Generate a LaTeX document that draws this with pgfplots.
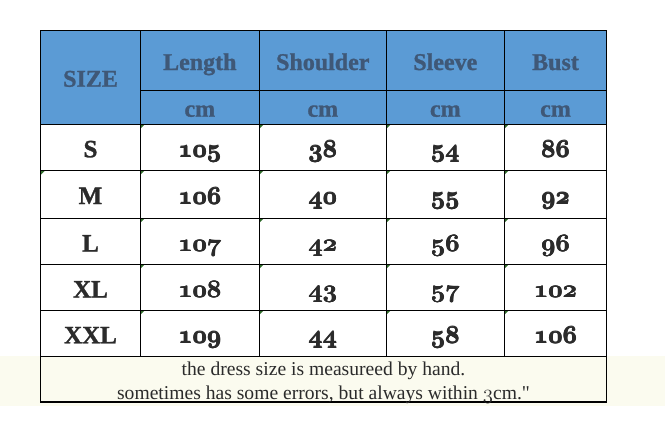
\documentclass[border=0pt]{standalone}
\usepackage{pgfplots}
\usepackage{pgfplotstable}
\pgfplotsset{compat=1.18}
\usepackage{fontspec}
\setmainfont{Liberation Serif}
\newfontface\heavyfont{Liberation Serif Bold}[FakeBold=1.2]

\definecolor{headblue}{HTML}{5B9BD5}
\definecolor{headtext}{HTML}{3F5877}
\definecolor{bodytext}{HTML}{2B2B2B}
\definecolor{cream}{HTML}{FBFBEF}
\definecolor{errgreen}{HTML}{2F6B2A}

% baseline = vertical position of each row's text (layout), then the values
\pgfplotstableread{
size length shoulder sleeve bust baseline
S    105    38       54     86   157.3
M    106    40       55     92   204.0
L    107    42       56     96   251.5
XL   108    43       57     102  297.5
XXL  109    44       58     106  343.3
}\sizetable

\newcommand{\numfont}{\fontsize{24.88}{30}\usefont{OML}{cmm}{b}{it}}
% heavier old-style digits: overlaid copies
\newcommand{\fbold}[1]{\leavevmode\rlap{#1}\rlap{\hspace{0.8pt}#1}\rlap{\hspace{0.4pt}\raisebox{0.45pt}{#1}}\rlap{\hspace{0.4pt}\raisebox{-0.35pt}{#1}}\hspace{0.8pt}\phantom{#1}}

\begin{document}
\begin{tikzpicture}
\begin{axis}[
  width=665pt, height=440pt, scale only axis,
  xmin=0, xmax=665, ymin=0, ymax=440, y dir=reverse,
  hide axis, clip=false,
  every node near coord/.append style={anchor=base, inner sep=0pt, text=bodytext},
]
% background and bands
\fill[white] (axis cs:0,0) rectangle (axis cs:665,440);
\fill[cream] (axis cs:0,356) rectangle (axis cs:665,406);
\fill[headblue] (axis cs:40.7,30.3) rectangle (axis cs:606.7,124.3);

% error indicators
\pgfplotsforeachungrouped \yy in {124.3,170.3,218.3,264.3,310.3}{%
  \pgfplotsforeachungrouped \xx in {140.3,259.3,386.3,504.3}{%
    \edef\tmp{\noexpand\fill[errgreen] (axis cs:\xx,\yy) -- (axis cs:\xx+4.5,\yy) -- (axis cs:\xx,\yy+4.5) -- cycle;}\tmp
  }%
}
\fill[errgreen] (axis cs:40.7,170.3) -- (axis cs:45.2,170.3) -- (axis cs:40.7,174.8) -- cycle;

% grid
\draw[line width=1.4pt] (axis cs:40.7,30.3) rectangle (axis cs:606.7,402);
\draw[line width=1.4pt] (axis cs:140.3,90.3) -- (axis cs:606.7,90.3);
\draw[line width=1.4pt] (axis cs:40.7,124.3) -- (axis cs:606.7,124.3);
\draw[line width=1.4pt] (axis cs:40.7,170.3) -- (axis cs:606.7,170.3);
\draw[line width=1.4pt] (axis cs:40.7,218.3) -- (axis cs:606.7,218.3);
\draw[line width=1.4pt] (axis cs:40.7,264.3) -- (axis cs:606.7,264.3);
\draw[line width=1.4pt] (axis cs:40.7,310.3) -- (axis cs:606.7,310.3);
\draw[line width=1.4pt] (axis cs:40.7,356.3) -- (axis cs:606.7,356.3);
\draw[line width=1.4pt] (axis cs:140.3,30.3) -- (axis cs:140.3,356.3);
\draw[line width=1.4pt] (axis cs:259.3,30.3) -- (axis cs:259.3,356.3);
\draw[line width=1.4pt] (axis cs:386.3,30.3) -- (axis cs:386.3,356.3);
\draw[line width=1.4pt] (axis cs:504.3,30.3) -- (axis cs:504.3,356.3);

% header
\begin{scope}[every node/.style={anchor=base, inner sep=0pt, text=headtext, font=\fontsize{24}{28}\heavyfont}]
\node at (axis cs:90.5,86.7) {SIZE};
\node at (axis cs:199.8,70) {Length};
\node at (axis cs:322.8,70) {Shoulder};
\node at (axis cs:445.3,70) {Sleeve};
\node at (axis cs:555.5,70) {Bust};
\node at (axis cs:199.8,116.7) {cm};
\node at (axis cs:322.8,116.7) {cm};
\node at (axis cs:445.3,116.7) {cm};
\node at (axis cs:555.5,116.7) {cm};
\end{scope}

% data
\addplot[draw=none, nodes near coords, point meta=explicit symbolic,
  every node near coord/.append style={font=\fontsize{25}{30}\heavyfont}]
  table[x expr=90.5, y=baseline, meta=size] {\sizetable};
\addplot[draw=none, nodes near coords={\fbold{\pgfplotspointmeta}}, point meta=explicit symbolic,
  every node near coord/.append style={font=\numfont}]
  table[x expr=199.8, y=baseline, meta=length] {\sizetable};
\addplot[draw=none, nodes near coords={\fbold{\pgfplotspointmeta}}, point meta=explicit symbolic,
  every node near coord/.append style={font=\numfont}]
  table[x expr=322.8, y=baseline, meta=shoulder] {\sizetable};
\addplot[draw=none, nodes near coords={\fbold{\pgfplotspointmeta}}, point meta=explicit symbolic,
  every node near coord/.append style={font=\numfont}]
  table[x expr=445.3, y=baseline, meta=sleeve] {\sizetable};
\addplot[draw=none, nodes near coords={\fbold{\pgfplotspointmeta}}, point meta=explicit symbolic,
  every node near coord/.append style={font=\numfont}]
  table[x expr=555.5, y=baseline, meta=bust] {\sizetable};

% footer
\begin{scope}[every node/.style={anchor=base, inner sep=0pt, text=bodytext, font=\fontsize{19.6}{24}\selectfont}]
\node at (axis cs:323.5,375) {the dress size is measureed by hand.};
\node at (axis cs:323.5,399) {sometimes has some errors, but always within {\usefont{OML}{cmm}{m}{it}3}cm.\textquotedbl};
\end{scope}
\end{axis}
\end{tikzpicture}
\end{document}
